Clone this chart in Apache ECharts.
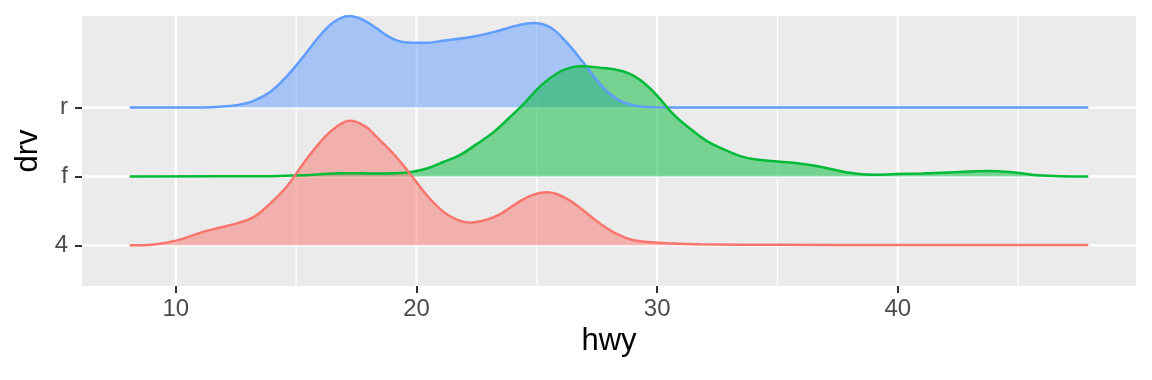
<!DOCTYPE html>
<html>
<head>
<meta charset="utf-8">
<script src="https://cdn.jsdelivr.net/npm/echarts@6/dist/echarts.min.js"></script>
<style>
html,body{margin:0;padding:0;background:#fff;}
#chart{width:1152px;height:380px;}
</style>
</head>
<body>
<div id="chart"></div>
<script>
// ---- data ----
const drvLevels = ['4', 'f', 'r'];          // y categories, bottom to top
const hwyMajorTicks = [10, 20, 30, 40];
const hwyMinorTicks = [15, 25, 35, 45];

// drv = 4
const hwy4  = [8.08, 9.08, 10.05, 11.15, 11.85, 12.54, 13.23, 13.93, 14.6, 15.3, 16.0, 16.6, 17.24, 17.9, 18.35, 19.04, 19.73, 20.42, 21.11, 21.7, 22.22, 22.8, 23.46, 24.16, 24.8, 25.4, 26.23, 26.92, 27.61, 28.3, 29.0, 30.38, 31.76, 35.0, 40.0, 47.92];
const dens4 = [0, 0.014, 0.072, 0.197, 0.26, 0.32, 0.41, 0.61, 0.85, 1.19, 1.50, 1.70, 1.81, 1.72, 1.57, 1.33, 1.04, 0.73, 0.49, 0.37, 0.33, 0.36, 0.45, 0.61, 0.73, 0.77, 0.68, 0.51, 0.32, 0.17, 0.077, 0.03, 0.015, 0.008, 0.005, 0.005];

// drv = f
const hwyF  = [8.08, 14.0, 15.58, 16.96, 18.35, 19.6, 20.42, 21.11, 21.8, 22.5, 23.19, 23.88, 24.5, 25.2, 25.9, 26.4, 26.9, 27.61, 28.3, 28.8, 29.3, 29.96, 30.66, 31.35, 32.04, 32.73, 33.42, 34.12, 35.08, 35.91, 36.88, 37.85, 38.95, 39.92, 41.0, 42.1, 43.76, 44.86, 45.8, 47.92];
const densF = [0, 0.005, 0.023, 0.048, 0.043, 0.058, 0.116, 0.21, 0.31, 0.47, 0.64, 0.86, 1.07, 1.33, 1.51, 1.58, 1.60, 1.58, 1.55, 1.50, 1.40, 1.19, 0.91, 0.70, 0.52, 0.40, 0.30, 0.245, 0.215, 0.19, 0.135, 0.062, 0.025, 0.035, 0.045, 0.058, 0.081, 0.058, 0.019, 0];

// drv = r
const hwyR  = [8.08, 10.5, 11.85, 12.54, 13.23, 13.93, 14.6, 15.3, 16.0, 16.6, 17.2, 17.8, 18.35, 18.9, 19.5, 20.3, 21.11, 22.5, 23.46, 24.16, 24.85, 25.54, 26.23, 26.92, 27.61, 28.3, 29.0, 29.69, 31.0, 47.92];
const densR = [0, 0, 0.014, 0.036, 0.099, 0.23, 0.45, 0.74, 1.05, 1.25, 1.33, 1.27, 1.15, 1.02, 0.95, 0.94, 0.97, 1.04, 1.12, 1.19, 1.23, 1.17, 0.95, 0.66, 0.35, 0.13, 0.036, 0.007, 0, 0];

// ---- chart ----
const xMin = 6.1, xMax = 49.9, yMin = 0.41, yMax = 4.33;
const groups = [
  { name: 'r', base: 3, xs: hwyR, ys: densR, color: '#619CFF', fill: 'rgba(97,156,255,0.5)' },
  { name: 'f', base: 2, xs: hwyF, ys: densF, color: '#00BA38', fill: 'rgba(0,186,56,0.5)' },
  { name: '4', base: 1, xs: hwy4, ys: dens4, color: '#F8766D', fill: 'rgba(248,118,109,0.5)' }
];

const series = [];
function gridLine(pts, w) {
  series.push({
    type: 'line', data: pts, silent: true, symbol: 'none', z: 1,
    lineStyle: { color: '#ffffff', width: w }, animation: false
  });
}
hwyMinorTicks.forEach(v => gridLine([[v, yMin], [v, yMax]], 1.2));
hwyMajorTicks.forEach(v => gridLine([[v, yMin], [v, yMax]], 2.3));
[1, 2, 3].forEach(v => gridLine([[xMin, v], [xMax, v]], 2.3));

groups.forEach(g => {
  series.push({
    type: 'line', name: g.name, z: 2,
    data: g.xs.map((x, i) => [x, g.base + g.ys[i]]),
    symbol: 'none', smooth: 0.4,
    lineStyle: { color: g.color, width: 2.5 },
    areaStyle: { color: g.fill, origin: g.base, opacity: 1 },
    animation: false, silent: true
  });
});

const chart = echarts.init(document.getElementById('chart'), null, { renderer: 'canvas' });
chart.setOption({
  backgroundColor: '#ffffff',
  animation: false,
  textStyle: { fontFamily: 'Liberation Sans, Arial, sans-serif' },
  grid: { left: 82, right: 16, top: 16, bottom: 94, show: true, backgroundColor: '#EBEBEB', borderWidth: 0 },
  xAxis: {
    type: 'value', min: xMin, max: xMax,
    name: 'hwy', nameLocation: 'middle', nameGap: 40,
    nameTextStyle: { color: '#000', fontSize: 31, fontFamily: 'Liberation Sans' },
    axisLine: { show: false },
    axisTick: { show: true, length: 7, lineStyle: { color: '#333333', width: 2 }, customValues: hwyMajorTicks },
    axisLabel: { color: '#4D4D4D', fontSize: 24, margin: 11, customValues: hwyMajorTicks, fontFamily: 'Liberation Sans' },
    splitLine: { show: false }
  },
  yAxis: {
    type: 'value', min: yMin, max: yMax,
    name: 'drv', nameLocation: 'middle', nameGap: 36, nameRotate: 90,
    nameTextStyle: { color: '#000', fontSize: 31, fontFamily: 'Liberation Sans' },
    axisLine: { show: false },
    axisTick: { show: true, length: 7, lineStyle: { color: '#333333', width: 2 }, customValues: [1, 2, 3] },
    axisLabel: { color: '#4D4D4D', fontSize: 24, margin: 14, customValues: [1, 2, 3],
      formatter: v => drvLevels[Math.round(v) - 1], fontFamily: 'Liberation Sans' },
    splitLine: { show: false }
  },
  series: series
});
</script>
</body>
</html>
